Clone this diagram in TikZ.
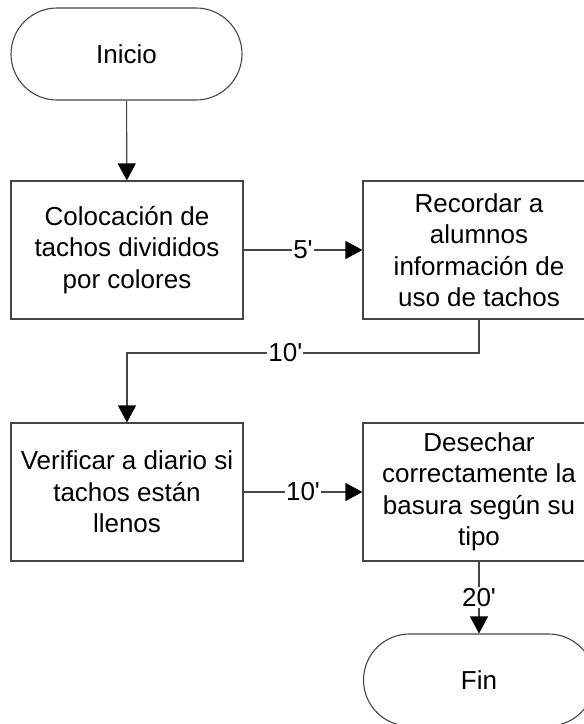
\documentclass[tikz,border=0pt]{standalone}
\usepackage{fontspec}
\setmainfont{Liberation Sans}
\usetikzlibrary{arrows.meta}
\definecolor{linec}{RGB}{70,70,70}
\begin{document}
\begin{tikzpicture}[x=1pt,y=-1pt,
  every node/.style={font=\fontsize{26}{31.5}\selectfont, text=black},
  procbox/.style={draw=linec, line width=1.1pt, rectangle, minimum width=232pt, minimum height=138pt, inner sep=0pt, align=center},
  termbox/.style={draw=linec, line width=1.1pt, rectangle, rounded corners=46pt, minimum width=231pt, minimum height=92pt, inner sep=0pt, align=center},
  flow/.style={draw=linec, line width=1.1pt, -{Triangle[length=17pt,width=18pt,fill=black,color=black]}},
  tlabel/.style={fill=white, inner sep=1pt}]
\useasboundingbox (0,0) rectangle (584,724);
\fill[white] (0,0) rectangle (584,724);
\begin{scope}
\clip (0,0) rectangle (584,724);
\node[termbox] (inicio) at (126.5,54) {Inicio};
\node[procbox] (b1) at (127,250) {Colocación de\\tachos divididos\\por colores};
\node[procbox] (b2) at (479,250) {Recordar a\\alumnos\\información de\\uso de tachos};
\node[procbox] (b3) at (127,492) {Verificar a diario si\\tachos están\\llenos};
\node[procbox] (b4) at (479,492) {Desechar\\correctamente la\\basura según su\\tipo};
\node[termbox] (fin) at (479,680) {Fin};
\coordinate (c1) at (479,353);
\coordinate (c2) at (127,353);
\draw[flow] (inicio) -- (b1);
\draw[flow] (b1) -- node[tlabel] {5\textquotesingle} (b2);
\draw[flow] (b2.south) -- (c1) -- node[tlabel, pos=0.55] {10\textquotesingle} (c2) -- (b3.north);
\draw[flow] (b3) -- node[tlabel] {10\textquotesingle} (b4);
\draw[flow] (b4) -- node[tlabel] {20\textquotesingle} (fin);
\end{scope}
\end{tikzpicture}
\end{document}
